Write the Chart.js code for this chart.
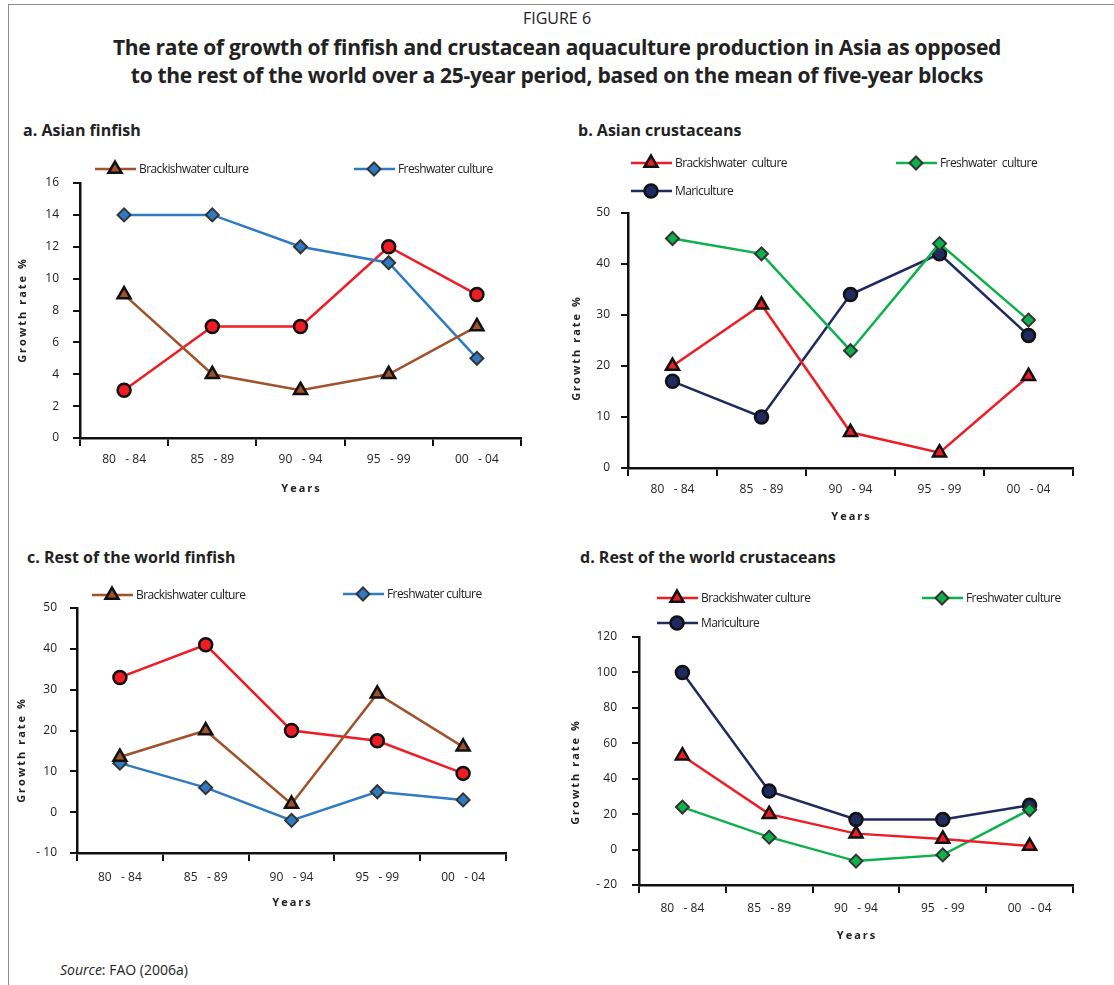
<!DOCTYPE html>
<html>
<head>
<meta charset="utf-8">
<script src="https://cdn.jsdelivr.net/npm/chart.js@4.4.1/dist/chart.umd.min.js"></script>
<style>
body { margin: 0; background: #fff; }
#page { position: relative; width: 1114px; height: 985px; overflow: hidden; font-family: "Open Sans", sans-serif; color: #222; }
#frame { position: absolute; left: 8px; top: 4px; width: 1200px; height: 1200px; border-left: 1.5px solid #8c8c8c; border-top: 1.5px solid #8c8c8c; }
.t { position: absolute; white-space: nowrap; }
.center { left: 0; width: 1114px; text-align: center; }
.fig { top: 7px; font-size: 16px; }
.head { font-weight: bold; font-size: 21px; letter-spacing: -0.3px; }
.ptitle { font-weight: bold; font-size: 16px; }
canvas { position: absolute; }
</style>
</head>
<body>
<div id="page">
  <div id="frame"></div>
  <div class="t center fig">FIGURE 6</div>
  <div class="t center head" style="top:33px">The rate of growth of finfish and crustacean aquaculture production in Asia as opposed</div>
  <div class="t center head" style="top:61px">to the rest of the world over a 25-year period, based on the mean of five-year blocks</div>
  <div class="t ptitle" style="left:23px;top:119px">a. Asian finfish</div>
  <div class="t ptitle" style="left:578px;top:119px">b. Asian crustaceans</div>
  <div class="t ptitle" style="left:27px;top:546px">c. Rest of the world finfish</div>
  <div class="t ptitle" style="left:580px;top:546px">d. Rest of the world crustaceans</div>
  <div class="t" style="left:60px;top:960px;font-size:14px"><i>Source</i>: FAO (2006a)</div>
  <canvas id="chartA" width="557" height="420" style="left:0;top:110px"></canvas>
  <canvas id="chartB" width="557" height="420" style="left:557px;top:110px"></canvas>
  <canvas id="chartC" width="557" height="445" style="left:0;top:540px"></canvas>
  <canvas id="chartD" width="557" height="445" style="left:557px;top:540px"></canvas>
</div>
<script>
// five-year blocks
const periods = ['80   - 84', '85   - 89', '90   - 94', '95   - 99', '00   - 04'];

// a. Asian finfish
const asianFinBrackish = [9, 4, 3, 4, 7];
const asianFinFresh = [14, 14, 12, 11, 5];
const asianFinMarine = [3, 7, 7, 12, 9];

// b. Asian crustaceans
const asianCrusBrackish = [20, 32, 7, 3, 18];
const asianCrusFresh = [45, 42, 23, 44, 29];
const asianCrusMari = [17, 10, 34, 42, 26];

// c. Rest of the world finfish
const rowFinBrackish = [13.5, 20, 2, 29, 16];
const rowFinFresh = [12, 6, -2, 5, 3];
const rowFinMarine = [33, 41, 20, 17.5, 9.5];

// d. Rest of the world crustaceans
const rowCrusBrackish = [53, 20, 9, 6, 2];
const rowCrusFresh = [24, 7, -6.5, -3, 22.5];
const rowCrusMari = [100, 33, 17, 17, 25];

const BROWN = '#A0522D', BLUE = '#2E7BC4', RED = '#EE1D25', GREEN = '#0DB14B', NAVY = '#1F2B5E';

function series(label, data, color, style) {
    let r = 6.5, bw = 2.5, bc = '#111';
    if (style == 'triangle') { r = 7.5; bw = 2.5; }
    if (style == 'rectRot') { r = 6.5; bw = 2; bc = '#333'; }
    return {
        label: label, data: data,
        borderColor: color, borderWidth: 2.5, tension: 0,
        pointStyle: style, pointRadius: r, pointHoverRadius: r,
        pointBackgroundColor: color, pointBorderColor: bc, pointBorderWidth: bw
    };
}

// legend lines and letter-spaced axis titles, drawn on the canvas
const panelDecor = {
    id: 'panelDecor',
    afterDraw(chart, args, opts) {
        const ctx = chart.ctx;
        ctx.save();
        chart.data.datasets.forEach((ds, i) => {
            const it = opts.legend[i];
            if (!it) return;
            ctx.strokeStyle = ds.borderColor;
            ctx.lineWidth = 2.5;
            ctx.beginPath();
            ctx.moveTo(it.x, it.y);
            ctx.lineTo(it.x + 41, it.y);
            ctx.stroke();
            ctx.fillStyle = ds.pointBackgroundColor;
            ctx.strokeStyle = ds.pointBorderColor;
            ctx.lineWidth = ds.pointBorderWidth;
            Chart.helpers.drawPoint(ctx, { pointStyle: ds.pointStyle, radius: ds.pointRadius, borderWidth: ds.pointBorderWidth, rotation: 0 }, it.x + 20, it.y);
            ctx.fillStyle = '#222';
            ctx.font = '12px "Open Sans"';
            ctx.letterSpacing = '-0.6px';
            ctx.textAlign = 'left';
            ctx.textBaseline = 'middle';
            ctx.fillText(ds.label, it.x + 44, it.y + 1);
        });
        ctx.fillStyle = '#222';
        ctx.font = 'bold 11px "Open Sans"';
        ctx.textAlign = 'center';
        ctx.textBaseline = 'middle';
        ctx.letterSpacing = '2px';
        const a = chart.chartArea;
        ctx.fillText('Years', (a.left + a.right) / 2 + 1, opts.yearsY);
        ctx.translate(opts.titleX, opts.titleY);
        ctx.rotate(-Math.PI / 2);
        ctx.fillText('Growth rate %', 0, 0);
        ctx.restore();
    }
};

function makePanel(id, datasets, p) {
    return new Chart(document.getElementById(id), {
        type: 'line',
        data: { labels: periods, datasets: datasets },
        plugins: [panelDecor],
        options: {
            responsive: false,
            animation: false,
            events: [],
            layout: { padding: { left: 0, top: p.top, right: p.right, bottom: p.bottom } },
            plugins: {
                legend: { display: false },
                tooltip: { enabled: false },
                panelDecor: { legend: p.legend, yearsY: p.yearsY, titleX: p.titleX, titleY: p.titleY }
            },
            scales: {
                x: {
                    offset: true,
                    afterFit: (s) => { s.height = 30; },
                    grid: { drawOnChartArea: false, drawTicks: true, tickLength: 8, color: '#111', lineWidth: 2, offset: true },
                    border: { display: true, color: '#111', width: 2.5 },
                    ticks: { color: '#222', padding: p.xPad, font: { family: 'Open Sans', size: 12 }, maxRotation: 0 }
                },
                y: {
                    min: p.min, max: p.max,
                    afterFit: (s) => { s.width = p.yWidth; },
                    grid: { drawOnChartArea: false, drawTicks: true, tickLength: 7, color: '#111', lineWidth: 2 },
                    border: { display: true, color: '#111', width: 2.5 },
                    ticks: {
                        stepSize: p.step, color: '#222', padding: p.yPad,
                        font: { family: 'Open Sans', size: 12 },
                        callback: (v) => v < 0 ? '- ' + Math.abs(v) : v
                    }
                }
            }
        }
    });
}

makePanel('chartA', [
    series('Brackishwater culture', asianFinBrackish, BROWN, 'triangle'),
    series('Freshwater culture', asianFinFresh, BLUE, 'rectRot'),
    series('', asianFinMarine, RED, 'circle')
], { min: 0, max: 16, step: 2, yWidth: 80, top: 73, right: 36, bottom: 62, xPad: 6, yPad: 14,
     legend: [{ x: 95, y: 59 }, { x: 354, y: 59 }, null], yearsY: 379, titleX: 23, titleY: 200 });

makePanel('chartB', [
    series('Brackishwater  culture', asianCrusBrackish, RED, 'triangle'),
    series('Freshwater  culture', asianCrusFresh, GREEN, 'rectRot'),
    series('Mariculture', asianCrusMari, NAVY, 'circle')
], { min: 0, max: 50, step: 10, yWidth: 71, top: 103, right: 41, bottom: 32, xPad: 6, yPad: 11,
     legend: [{ x: 74, y: 53 }, { x: 339, y: 53 }, { x: 74, y: 81 }], yearsY: 407, titleX: 20, titleY: 238 });

makePanel('chartC', [
    series('Brackishwater culture', rowFinBrackish, BROWN, 'triangle'),
    series('Freshwater culture', rowFinFresh, BLUE, 'rectRot'),
    series('', rowFinMarine, RED, 'circle')
], { min: -10, max: 50, step: 10, yWidth: 77, top: 68, right: 51, bottom: 102, xPad: 9, yPad: 13,
     legend: [{ x: 92, y: 55 }, { x: 343, y: 54 }, null], yearsY: 363, titleX: 22, titleY: 210 });

makePanel('chartD', [
    series('Brackishwater culture', rowCrusBrackish, RED, 'triangle'),
    series('Freshwater culture', rowCrusFresh, GREEN, 'rectRot'),
    series('Mariculture', rowCrusMari, NAVY, 'circle')
], { min: -20, max: 120, step: 20, yWidth: 82, top: 97, right: 41, bottom: 70, xPad: 8, yPad: 15,
     legend: [{ x: 100, y: 58 }, { x: 365, y: 58 }, { x: 100, y: 83 }], yearsY: 396, titleX: 19, titleY: 232 });
</script>
</body>
</html>
